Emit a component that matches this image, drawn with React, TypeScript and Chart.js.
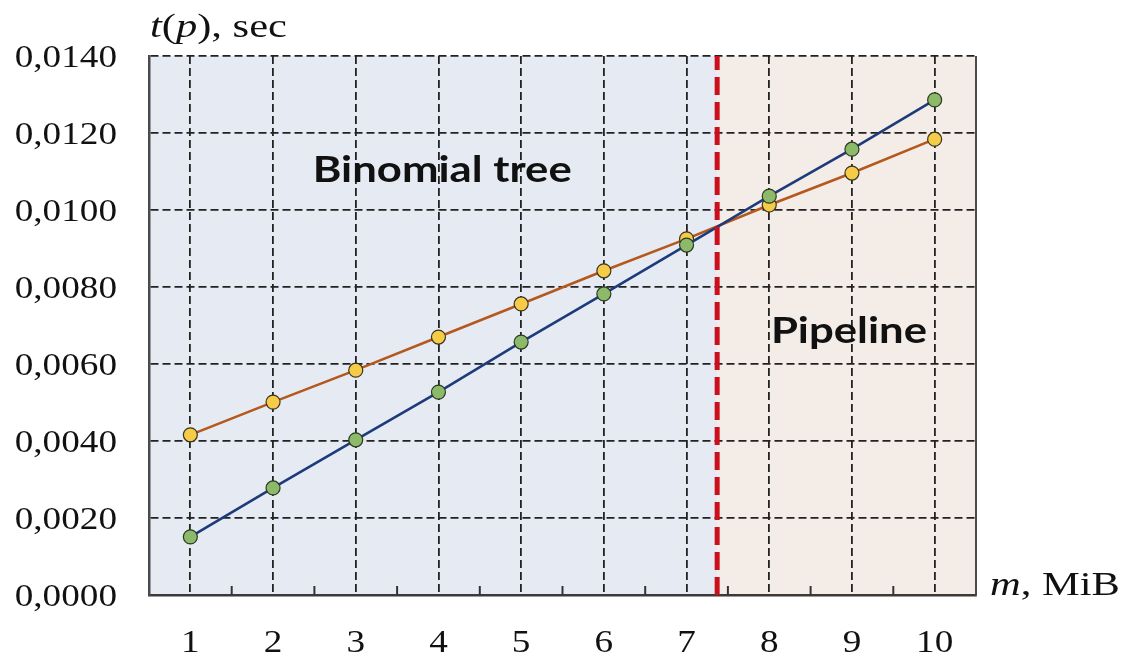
import React, { useEffect, useRef } from "react";
import { Chart, registerables } from "chart.js";

Chart.register(...registerables);

// Message size, MiB
const sizes = [1, 2, 3, 4, 5, 6, 7, 8, 9, 10];
// Execution time t(p), sec
const pipelineTimes = [0.00151, 0.00278, 0.00403, 0.00527, 0.00657, 0.00782, 0.00909, 0.01036, 0.01158, 0.01286];
const binomialTimes = [0.00416, 0.00501, 0.00584, 0.0067, 0.00756, 0.00842, 0.00925, 0.01013, 0.01096, 0.01184];
// Crossover point between algorithms, MiB
const crossover = 7.37;
const yTicks = [0, 0.002, 0.004, 0.006, 0.008, 0.01, 0.012, 0.014];
const regionLabels = [
  { text: "Binomial tree", x: 2.48, y: 0.01073 },
  { text: "Pipeline", x: 8.02, y: 0.00655 },
];

const SERIF = "'Liberation Serif', 'Times New Roman', serif";
const WIDE = 1.2; // horizontal stretch applied to all text

const fmtY = (v: number) => v.toFixed(4).replace(".", ",");

function stretchedText(ctx: CanvasRenderingContext2D, text: string, x: number, y: number, align: CanvasTextAlign, k = WIDE) {
  ctx.save();
  ctx.translate(x, y);
  ctx.scale(k, 1);
  ctx.textAlign = align;
  ctx.fillText(text, 0, 0);
  ctx.restore();
}

const decorPlugin = {
  id: "decor",
  beforeDraw(chart: any) {
    const { ctx, chartArea, scales } = chart;
    const xs = scales.x;
    const split = xs.getPixelForValue(crossover);
    ctx.save();
    ctx.fillStyle = "#e6ebf3";
    ctx.fillRect(chartArea.left, chartArea.top, split - chartArea.left, chartArea.bottom - chartArea.top);
    ctx.fillStyle = "#f3ece7";
    ctx.fillRect(split, chartArea.top, chartArea.right - split, chartArea.bottom - chartArea.top);
    ctx.restore();
  },
  afterDatasetsDraw(chart: any) {
    const { ctx, chartArea, scales } = chart;
    const xs = scales.x;
    const ys = scales.y;
    ctx.save();
    // crossover divider
    const split = xs.getPixelForValue(crossover);
    ctx.strokeStyle = "#cc0f1c";
    ctx.lineWidth = 5;
    ctx.setLineDash([18, 7]);
    ctx.beginPath();
    ctx.moveTo(split, chartArea.bottom);
    ctx.lineTo(split, chartArea.top);
    ctx.stroke();
    ctx.setLineDash([]);

    // right frame
    ctx.strokeStyle = "#4a4a4a";
    ctx.lineWidth = 2;
    ctx.beginPath();
    ctx.moveTo(chartArea.right, chartArea.top);
    ctx.lineTo(chartArea.right, chartArea.bottom);
    ctx.stroke();

    // minor ticks between categories
    ctx.lineWidth = 2;
    ctx.strokeStyle = "#333";
    for (let i = 1; i < sizes.length; i++) {
      const px = xs.getPixelForValue((sizes[i - 1] + sizes[i]) / 2);
      ctx.beginPath();
      ctx.moveTo(px, chartArea.bottom);
      ctx.lineTo(px, chartArea.bottom - 9);
      ctx.stroke();
    }

    ctx.fillStyle = "#111";
    ctx.textBaseline = "alphabetic";

    // tick labels
    ctx.font = "31px " + SERIF;
    for (const t of ys.ticks) {
      stretchedText(ctx, fmtY(t.value), chartArea.left - 32, ys.getPixelForValue(t.value) + 11, "right");
    }
    for (const t of xs.ticks) {
      stretchedText(ctx, String(t.value), xs.getPixelForValue(t.value), chartArea.bottom + 57, "center");
    }

    // region captions
    ctx.font = "bold 37px Lato, 'Open Sans', sans-serif";
    for (const r of regionLabels) {
      stretchedText(ctx, r.text, xs.getPixelForValue(r.x), ys.getPixelForValue(r.y), "left", 1.18);
    }

    // axis titles with italic variables
    const drawParts = (parts: [string, boolean][], x: number, y: number) => {
      let cx = x;
      for (const [t, it] of parts) {
        ctx.font = (it ? "italic " : "") + "34px " + SERIF;
        stretchedText(ctx, t, cx, y, "left", 1.25);
        cx += ctx.measureText(t).width * 1.25;
      }
    };
    drawParts([["t", true], ["(", false], ["p", true], ["), sec", false]], chartArea.left + 1, 37);
    drawParts([["m", true], [", MiB", false]], chartArea.right + 14, chartArea.bottom);
    ctx.restore();
  },
};

export default function App() {
  const ref = useRef<HTMLCanvasElement | null>(null);
  useEffect(() => {
    if (!ref.current) return;
    const chart = new Chart(ref.current, {
      type: "line",
      data: {
        datasets: [
          {
            label: "Pipeline",
            data: sizes.map((s, i) => ({ x: s, y: pipelineTimes[i] })),
            borderColor: "#1d3b7a",
            borderWidth: 2.6,
            pointBackgroundColor: "#8cba6a",
            pointBorderColor: "#2b3a22",
            pointBorderWidth: 1.2,
            pointRadius: 7,
            tension: 0,
          },
          {
            label: "Binomial tree",
            data: sizes.map((s, i) => ({ x: s, y: binomialTimes[i] })),
            borderColor: "#b5581e",
            borderWidth: 2.6,
            pointBackgroundColor: "#f5cb48",
            pointBorderColor: "#3a3320",
            pointBorderWidth: 1.2,
            pointRadius: 7,
            tension: 0,
          },
        ],
      },
      options: {
        animation: false,
        responsive: false,
        layout: { padding: { top: 56, right: 149, left: 0, bottom: 0 } },
        plugins: { legend: { display: false }, tooltip: { enabled: false } },
        scales: {
          x: {
            type: "linear",
            min: 0.5,
            max: 10.5,
            afterBuildTicks: (scale: any) => {
              scale.ticks = sizes.map((v) => ({ value: v }));
            },
            afterFit: (scale: any) => {
              scale.height = 63;
            },
            grid: { color: "#222", lineWidth: 1.8, drawTicks: false },
            border: { display: true, color: "#3a3a3a", width: 2.5, dash: [8, 4] },
            ticks: { display: false },
          },
          y: {
            min: 0,
            max: 0.014,
            afterBuildTicks: (scale: any) => {
              scale.ticks = yTicks.map((v) => ({ value: v }));
            },
            afterFit: (scale: any) => {
              scale.width = 149;
            },
            grid: { color: (c: any) => (c.tick && c.tick.value === 0 ? "rgba(0,0,0,0)" : "#222"), lineWidth: 1.8, drawTicks: false },
            border: { display: true, color: "#4a4a4a", width: 2.5, dash: [8, 4] },
            ticks: { display: false },
          },
        },
      },
      plugins: [decorPlugin],
    });
    return () => chart.destroy();
  }, []);
  return (
    <div style={{ position: "fixed", left: 0, top: 0, width: 1125, height: 658, background: "#fff" }}>
      <canvas ref={ref} width={1125} height={658} style={{ width: 1125, height: 658, display: "block" }} />
    </div>
  );
}
